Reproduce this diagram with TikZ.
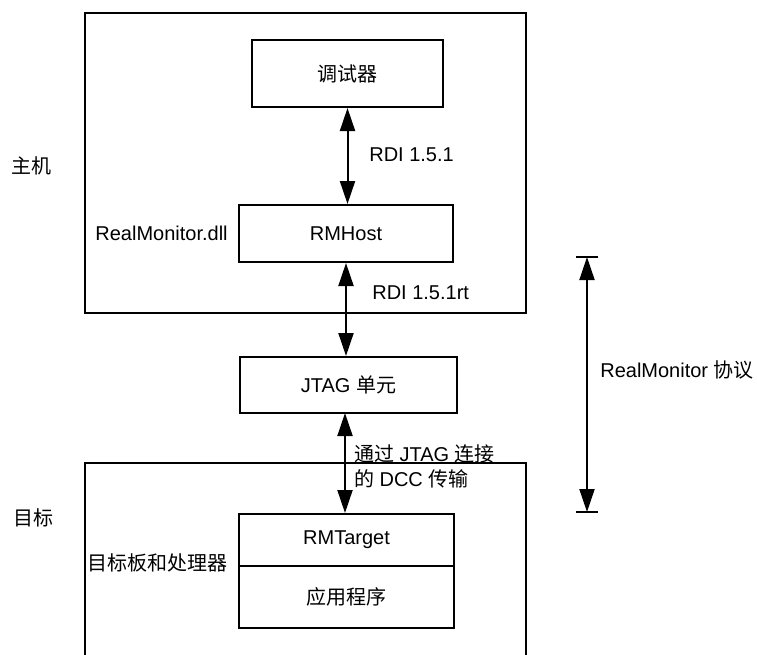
\documentclass[tikz,border=0pt]{standalone}
\usepackage{fontspec}
\setmainfont{Liberation Sans}
\newfontfamily\cjk{Noto Sans CJK SC}
\usetikzlibrary{arrows.meta}
\begin{document}
\begin{tikzpicture}[x=1pt, y=-1pt, line width=2pt, font=\fontsize{20}{25}\selectfont,
    box/.style = {draw, rectangle, inner sep=0pt},
    both/.style = {{Triangle[length=23pt,width=15pt]}-{Triangle[length=23pt,width=15pt]}}]
    \useasboundingbox (0,0) rectangle (757,654);
    % host and target frames
    \draw (85,13) rectangle (526,313);
    \draw (85,660) -- (85,463) -- (526,463) -- (526,660);
    \node (host) at (32,166) {\cjk 主机};
    \node (target) at (33,518) {\cjk 目标};
    % blocks
    \node[box, minimum width=191pt, minimum height=67pt] (dbg) at (347.5,73.5) {\cjk 调试器};
    \node[box, minimum width=214pt, minimum height=57pt] (rmhost) at (346,233.5) {RMHost};
    \node[box, minimum width=217pt, minimum height=56pt] (jtag) at (348.5,385) {JTAG {\cjk 单元}};
    \node[box, minimum width=215pt, minimum height=52pt] (rmtarget) at (346.5,540) {RMTarget};
    \node[box, minimum width=215pt, minimum height=62pt] (app) at (346.5,597) {\cjk 应用程序};
    \node[anchor = east] (dll) at (232,233) {RealMonitor.dll};
    \node[anchor = east] (board) at (232,563) {\cjk 目标板和处理器};
    % links
    \draw[both] (dbg.south) -- (dbg.south |- rmhost.north);
    \draw[both] (rmhost.south) -- (rmhost.south |- jtag.north);
    \draw[both] (345,413) coordinate (jb) -- (jb |- rmtarget.north);
    \node[anchor = west] (rdi) at (365,155) {RDI 1.5.1};
    \node[anchor = west] (rdirt) at (368,293) {RDI 1.5.1rt};
    \node[anchor = west, align=left, inner sep=0pt] (dcc) at (353,466) {{\cjk 通过} JTAG {\cjk 连接}\\{\cjk 的} DCC {\cjk 传输}};
    % protocol span
    \coordinate (ptop) at (587,257);
    \coordinate (pbot) at (587,512);
    \draw[both] (ptop) -- (pbot);
    \draw ([xshift=-11pt]ptop) -- ([xshift=11pt]ptop);
    \draw ([xshift=-11pt]pbot) -- ([xshift=11pt]pbot);
    \node[anchor = west] (proto) at (596,370) {RealMonitor {\cjk 协议}};
\end{tikzpicture}
\end{document}
